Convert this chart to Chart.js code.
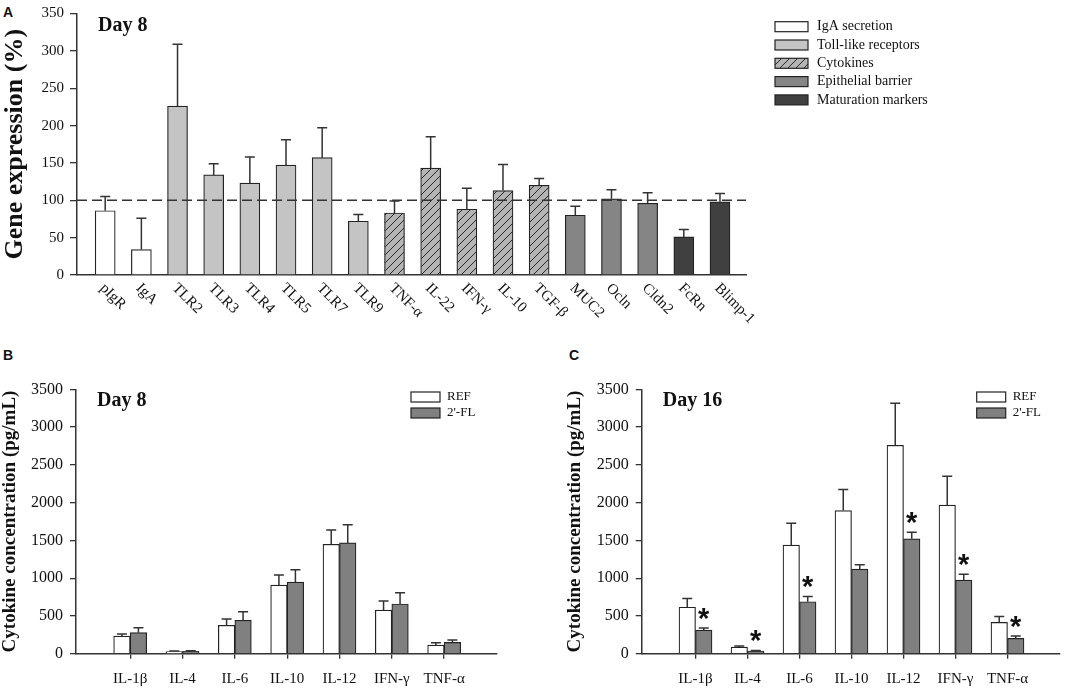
<!DOCTYPE html>
<html>
<head>
<meta charset="utf-8">
<script src="https://cdn.jsdelivr.net/npm/chart.js@4.4.1/dist/chart.umd.min.js"></script>
<style>
  body { margin: 0; background: #fff; width: 1084px; height: 689px; position: relative; overflow: hidden; }
  canvas { position: absolute; }
  .letter { position: absolute; font: bold 14px "Liberation Sans", Arial, sans-serif; line-height: 1; color: #111; }
</style>
</head>
<body>
<div class="letter" style="left:3px;top:5px">A</div>
<div class="letter" style="left:3px;top:348px">B</div>
<div class="letter" style="left:569px;top:348px">C</div>
<canvas id="chartA" width="1084" height="350" style="left:0;top:0"></canvas>
<canvas id="chartB" width="540" height="339" style="left:0;top:350px"></canvas>
<canvas id="chartC" width="544" height="339" style="left:540px;top:350px"></canvas>
<script>
// Panel A: gene expression on day 8 (% of REF)
var genes = ['pIgR', 'IgA', 'TLR2', 'TLR3', 'TLR4', 'TLR5', 'TLR7', 'TLR9', 'TNF-α', 'IL-22',
             'IFN-γ', 'IL-10', 'TGF-β', 'MUC2', 'Ocln', 'Cldn2', 'FcRn', 'Blimp-1'];
var geneGroup = [0, 0, 1, 1, 1, 1, 1, 1, 2, 2, 2, 2, 2, 3, 3, 3, 4, 4];
var geneExpr = [86, 34, 226, 134, 123, 147, 157, 72, 83, 143, 88, 113, 120, 80, 102, 96, 51, 98];
var geneErr = [19, 42, 83, 15, 35, 34, 40, 9, 16, 42, 28, 35, 9, 12, 12, 14, 10, 11];
var groupNames = ['IgA secretion', 'Toll-like receptors', 'Cytokines', 'Epithelial barrier', 'Maturation markers'];

// Panels B and C: cytokine concentration (pg/mL)
var cytokines = ['IL-1β', 'IL-4', 'IL-6', 'IL-10', 'IL-12', 'IFN-γ', 'TNF-α'];
var day8Ref = [234, 27, 376, 909, 1448, 578, 115];
var day8RefErr = [27, 8, 83, 133, 190, 120, 31];
var day8Fl = [278, 32, 442, 949, 1466, 658, 150];
var day8FlErr = [66, 8, 114, 163, 242, 150, 31];
var day16Ref = [615, 88, 1437, 1895, 2759, 1966, 414];
var day16RefErr = [115, 13, 291, 279, 555, 384, 79];
var day16Fl = [313, 36, 688, 1120, 1521, 974, 202];
var day16FlErr = [27, 8, 70, 57, 88, 79, 32];
var day16Sig = [true, true, true, false, true, true, true];

var serif = '"Liberation Serif", "Times New Roman", serif';
var ink = '#111';
var axisColor = '#333';

function hatch() {
  var c = document.createElement('canvas');
  c.width = 8; c.height = 8;
  var g = c.getContext('2d');
  g.fillStyle = '#b4b4b4';
  g.fillRect(0, 0, 8, 8);
  g.strokeStyle = '#2a2a2a';
  g.lineWidth = 1;
  g.beginPath();
  g.moveTo(0, 8); g.lineTo(8, 0);
  g.moveTo(-1, 1); g.lineTo(1, -1);
  g.moveTo(7, 9); g.lineTo(9, 7);
  g.stroke();
  return g.createPattern(c, 'repeat');
}
var groupColors = ['#ffffff', '#c4c4c4', hatch(), '#858585', '#404040'];

function barValue(v) { return typeof v === 'object' ? v.y : v; }

// upward error bars with caps
var errorBars = {
  id: 'errorBars',
  afterDatasetsDraw: function (chart) {
    var ctx = chart.ctx, y = chart.scales.y;
    ctx.save();
    ctx.strokeStyle = axisColor;
    ctx.lineWidth = 1.5;
    chart.data.datasets.forEach(function (ds, i) {
      if (!ds.errors) return;
      chart.getDatasetMeta(i).data.forEach(function (bar, j) {
        var top = y.getPixelForValue(barValue(ds.data[j]) + ds.errors[j]);
        ctx.beginPath();
        ctx.moveTo(bar.x, bar.y); ctx.lineTo(bar.x, top);
        ctx.moveTo(bar.x - 5, top); ctx.lineTo(bar.x + 5, top);
        ctx.stroke();
      });
    });
    ctx.restore();
  }
};

// dashed 100% line
var refLine = {
  id: 'refLine',
  afterDatasetsDraw: function (chart, args, opts) {
    if (opts.value == null) return;
    var ctx = chart.ctx, a = chart.chartArea;
    var py = chart.scales.y.getPixelForValue(opts.value);
    ctx.save();
    ctx.strokeStyle = axisColor;
    ctx.lineWidth = 1.6;
    ctx.setLineDash([10, 5]);
    ctx.beginPath();
    ctx.moveTo(a.left, py); ctx.lineTo(a.right, py);
    ctx.stroke();
    ctx.restore();
  }
};

// "Day n" label inside the plot
var panelText = {
  id: 'panelText',
  afterDraw: function (chart, args, opts) {
    var ctx = chart.ctx, a = chart.chartArea;
    ctx.save();
    ctx.fillStyle = ink;
    ctx.font = 'bold 20px ' + serif;
    ctx.textBaseline = 'alphabetic';
    ctx.fillText(opts.text, a.left + 21, a.top + 17);
    ctx.restore();
  }
};

// stacked legend boxes
var boxLegend = {
  id: 'boxLegend',
  afterDraw: function (chart, args, o) {
    var ctx = chart.ctx;
    ctx.save();
    ctx.font = o.size + 'px ' + serif;
    ctx.textBaseline = 'middle';
    chart.data.datasets.forEach(function (ds, i) {
      var top = o.y + i * o.rowH;
      ctx.fillStyle = ds.backgroundColor;
      ctx.fillRect(o.x, top, o.boxW, o.boxH);
      ctx.strokeStyle = '#222';
      ctx.lineWidth = 1.2;
      ctx.strokeRect(o.x, top, o.boxW, o.boxH);
      ctx.fillStyle = ink;
      ctx.fillText(ds.label, o.textX, top + o.boxH / 2);
    });
    ctx.restore();
  }
};

// slanted gene names under panel A
var slantLabels = {
  id: 'slantLabels',
  afterDraw: function (chart) {
    var ctx = chart.ctx, x = chart.scales.x, a = chart.chartArea;
    ctx.save();
    ctx.fillStyle = ink;
    ctx.font = '15px ' + serif;
    ctx.textAlign = 'left';
    ctx.textBaseline = 'middle';
    genes.forEach(function (g, i) {
      ctx.save();
      ctx.translate(x.getPixelForValue(i) - 3, a.bottom + 11);
      ctx.rotate(Math.PI / 4);
      ctx.fillText(g, 0, 0);
      ctx.restore();
    });
    ctx.restore();
  }
};

// significance stars above the 2'-FL bars
var stars = {
  id: 'stars',
  afterDatasetsDraw: function (chart) {
    var ctx = chart.ctx, y = chart.scales.y;
    ctx.save();
    ctx.fillStyle = ink;
    ctx.font = 'bold 29px "Liberation Sans", Arial, sans-serif';
    ctx.textAlign = 'center';
    ctx.textBaseline = 'alphabetic';
    var m = ctx.measureText('*');
    var mid = (m.actualBoundingBoxAscent - m.actualBoundingBoxDescent) / 2;
    chart.data.datasets.forEach(function (ds, i) {
      if (!ds.sig) return;
      chart.getDatasetMeta(i).data.forEach(function (bar, j) {
        if (!ds.sig[j]) return;
        var top = y.getPixelForValue(barValue(ds.data[j]) + ds.errors[j]);
        ctx.fillText('*', bar.x, top - 14 + mid);
      });
    });
    ctx.restore();
  }
};

function plain(v) { return String(v); }

new Chart(document.getElementById('chartA'), {
  type: 'bar',
  data: {
    datasets: groupNames.map(function (name, g) {
      var pts = [], errs = [];
      genes.forEach(function (gn, i) {
        if (geneGroup[i] === g) {
          pts.push({ x: i, y: geneExpr[i] });
          errs.push(geneErr[i]);
        }
      });
      return {
        label: name, data: pts, errors: errs,
        backgroundColor: groupColors[g], borderColor: '#222', borderWidth: 1.2,
        barThickness: 20, grouped: false
      };
    })
  },
  options: {
    responsive: false,
    animation: false,
    layout: { padding: { top: 7, right: 338, bottom: 0, left: 0 } },
    scales: {
      x: {
        type: 'linear', min: -0.78, max: 17.72, offset: false,
        ticks: { display: false },
        grid: { display: false, offset: false },
        border: { color: axisColor, width: 1.5 },
        afterFit: function (s) { s.height = 75; }
      },
      y: {
        min: 0, max: 350,
        ticks: { stepSize: 50, color: ink, padding: 6, callback: plain, font: { family: serif, size: 15, lineHeight: 1 } },
        grid: { drawOnChartArea: false, tickLength: 7, color: axisColor, lineWidth: 1.3 },
        border: { color: axisColor, width: 1.5 },
        title: {
          display: true, text: 'Gene expression (%)', color: ink,
          font: { family: serif, size: 26, weight: 'bold', lineHeight: 1 }, padding: { top: 2, bottom: 0 }
        },
        afterFit: function (s) { s.width = 77; }
      }
    },
    plugins: {
      legend: { display: false },
      tooltip: { enabled: false },
      refLine: { value: 100 },
      panelText: { text: 'Day 8' },
      boxLegend: { x: 775, y: 21.7, boxW: 33, boxH: 10, rowH: 18.3, textX: 817, size: 14 }
    }
  },
  plugins: [errorBars, refLine, panelText, boxLegend, slantLabels]
});

function cytokineChart(id, day, ref, refErr, fl, flErr, sig, yWidth, titlePad, padRight) {
  return new Chart(document.getElementById(id), {
    type: 'bar',
    data: {
      datasets: [
        { label: 'REF', data: ref.map(function (v, i) { return { x: i, y: v }; }), errors: refErr,
          backgroundColor: '#ffffff', borderColor: '#222', borderWidth: 1.2, barThickness: 16.5 },
        { label: "2'-FL", data: fl.map(function (v, i) { return { x: i, y: v }; }), errors: flErr, sig: sig,
          backgroundColor: '#808080', borderColor: '#222', borderWidth: 1.2, barThickness: 16.5 }
      ]
    },
    options: {
      responsive: false,
      animation: false,
      layout: { padding: { top: 39.3, right: padRight, bottom: 0, left: 0 } },
      scales: {
        x: {
          type: 'linear', min: -1.035, max: 7.01, offset: false,
          afterBuildTicks: function (s) { s.ticks = cytokines.map(function (c, i) { return { value: i }; }); },
          ticks: {
            autoSkip: false, maxRotation: 0, color: ink, padding: 11,
            font: { family: serif, size: 15 },
            callback: function (v) { return cytokines[v]; }
          },
          grid: { drawOnChartArea: false, offset: false, tickLength: 5, color: axisColor, lineWidth: 1.3 },
          border: { color: axisColor, width: 1.5 },
          afterFit: function (s) { s.height = 35.3; }
        },
        y: {
          min: 0, max: 3500,
          ticks: { stepSize: 500, color: ink, padding: 7, callback: plain, font: { family: serif, size: 16, lineHeight: 1 } },
          grid: { drawOnChartArea: false, tickLength: 6, color: axisColor, lineWidth: 1.3 },
          border: { color: axisColor, width: 1.5 },
          title: {
            display: true, text: 'Cytokine concentration (pg/mL)', color: ink,
            font: { family: serif, size: 19, weight: 'bold', lineHeight: 1 }, padding: { top: titlePad, bottom: 0 }
          },
          afterFit: function (s) { s.width = yWidth; }
        }
      },
      plugins: {
        legend: { display: false },
        tooltip: { enabled: false },
        panelText: { text: day },
        boxLegend: { x: yWidth + 335, y: 42, boxW: 29, boxH: 10, rowH: 16, textX: yWidth + 371, size: 13 }
      }
    },
    plugins: [errorBars, panelText, boxLegend, stars]
  });
}

cytokineChart('chartB', 'Day 8', day8Ref, day8RefErr, day8Fl, day8FlErr, null, 76, 0.5, 43);
cytokineChart('chartC', 'Day 16', day16Ref, day16RefErr, day16Fl, day16FlErr, day16Sig, 101.7, 25.5, 24);
</script>
</body>
</html>
